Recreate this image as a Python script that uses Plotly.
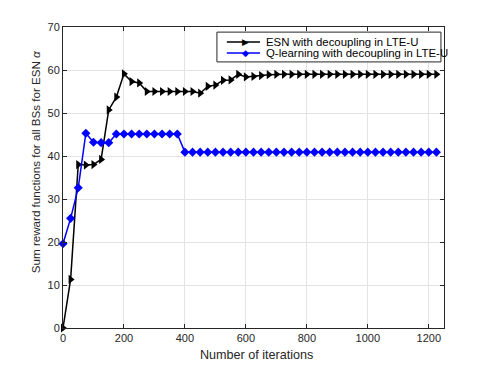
import plotly.graph_objects as go

# iteration counts (every 25 iterations)
iterations = [0, 25, 50, 75, 100, 125, 150, 175, 200, 225, 250, 275, 300, 325, 350, 375,
              400, 425, 450, 475, 500, 525, 550, 575, 600, 625, 650, 675, 700, 725, 750,
              775, 800, 825, 850, 875, 900, 925, 950, 975, 1000, 1025, 1050, 1075, 1100,
              1125, 1150, 1175, 1200, 1225]

# sum reward, ESN with decoupling
esn_reward = [0, 11.3, 38.0, 37.9, 38.0, 39.2, 50.7, 53.7, 59.1, 57.3, 57.0, 55.0,
              55.0, 55.0, 55.0, 55.0, 55.0, 55.0, 54.6, 56.2, 56.5, 57.6, 57.7, 59.0,
              58.4, 58.5, 58.7, 58.9, 59.0, 59.0, 59.0, 59.0, 59.0, 59.0, 59.0, 59.0,
              59.0, 59.0, 59.0, 59.0, 59.0, 59.0, 59.0, 59.0, 59.0, 59.0, 59.0, 59.0,
              59.0, 59.0]

# sum reward, Q-learning with decoupling
qlearn_reward = [19.6, 25.5, 32.6, 45.3, 43.2, 43.1, 43.1, 45.1, 45.1, 45.1, 45.1,
                 45.1, 45.1, 45.1, 45.1, 45.1, 40.9, 40.9, 40.9, 40.9, 40.9, 40.9,
                 40.9, 40.9, 40.9, 40.9, 40.9, 40.9, 40.9, 40.9, 40.9, 40.9, 40.9,
                 40.9, 40.9, 40.9, 40.9, 40.9, 40.9, 40.9, 40.9, 40.9, 40.9, 40.9,
                 40.9, 40.9, 40.9, 40.9, 40.9, 40.9]

series_names = ["ESN with decoupling in LTE-U", "Q-learning with decoupling in LTE-U"]
series_colors = ["black", "#0000ff"]

x_ticks = [0, 200, 400, 600, 800, 1000, 1200]
y_ticks = [0, 10, 20, 30, 40, 50, 60, 70]

fig = go.Figure()
fig.add_trace(go.Scatter(
    x=iterations, y=esn_reward, mode="lines+markers", name=series_names[0],
    line=dict(color=series_colors[0], width=1.5),
    marker=dict(symbol="triangle-right", size=8, color=series_colors[0]),
    cliponaxis=False, showlegend=False,
))
fig.add_trace(go.Scatter(
    x=iterations, y=qlearn_reward, mode="lines+markers", name=series_names[1],
    line=dict(color=series_colors[1], width=1.5),
    marker=dict(symbol="diamond", size=7, color=series_colors[1]),
    cliponaxis=False, showlegend=False,
))

axis_style = dict(
    showline=True, linecolor="#262626", linewidth=1, mirror="ticks",
    ticks="inside", ticklen=4, tickcolor="#262626",
    showgrid=True, gridcolor="#e3e3e3", gridwidth=1, zeroline=False,
    tickfont=dict(size=11, color="#262626"), automargin=False,
)

# compact MATLAB-like legend box, drawn by hand (plotly's own is too tall)
shapes = [dict(type="rect", xref="paper", yref="paper", x0=0.404, x1=0.992,
               y0=0.884, y1=0.983, line=dict(color="#262626", width=1),
               fillcolor="white", layer="above")]
annotations = []
glyphs = ["▶", "◆"]
for row_y, name, color, glyph in zip([0.950, 0.914], series_names, series_colors, glyphs):
    shapes.append(dict(type="line", xref="paper", yref="paper", x0=0.430, x1=0.517,
                       y0=row_y, y1=row_y, line=dict(color=color, width=1.5),
                       layer="above"))
    annotations.append(dict(xref="paper", yref="paper", x=0.480, y=row_y, text=glyph,
                            showarrow=False, font=dict(size=9, color=color,
                                                       family="DejaVu Sans"),
                            xanchor="center", yanchor="middle"))
    annotations.append(dict(xref="paper", yref="paper", x=0.528, y=row_y, text=name,
                            showarrow=False, font=dict(size=11.4, color="black"),
                            xanchor="left", yanchor="middle"))

# axis titles placed as in the original (y label sits a bit above centre)
annotations.append(dict(xref="paper", yref="paper", x=0.509, y=-0.09,
                        text="Number of iterations", showarrow=False,
                        font=dict(size=12.6, color="#262626"),
                        xanchor="center", yanchor="middle"))
annotations.append(dict(xref="paper", yref="paper", x=-0.0735, y=0.551,
                        text="Sum reward functions for all BSs for ESN <i>α</i>",
                        showarrow=False, textangle=-90,
                        font=dict(size=11.6, color="#262626"),
                        xanchor="center", yanchor="middle"))

# page body has an 8px margin, so figure is 8px smaller and margins shifted
fig.update_layout(
    width=483, height=360,
    margin=dict(l=55, r=47, t=19, b=40),
    paper_bgcolor="white", plot_bgcolor="white",
    font=dict(family="Liberation Sans, Arial, sans-serif", color="#262626"),
    xaxis=dict(range=[0, 1250], tickvals=x_ticks, **axis_style),
    yaxis=dict(range=[0, 70], tickvals=y_ticks, **axis_style),
    shapes=shapes,
    annotations=annotations,
    showlegend=False,
)

fig.write_html("out.html")
